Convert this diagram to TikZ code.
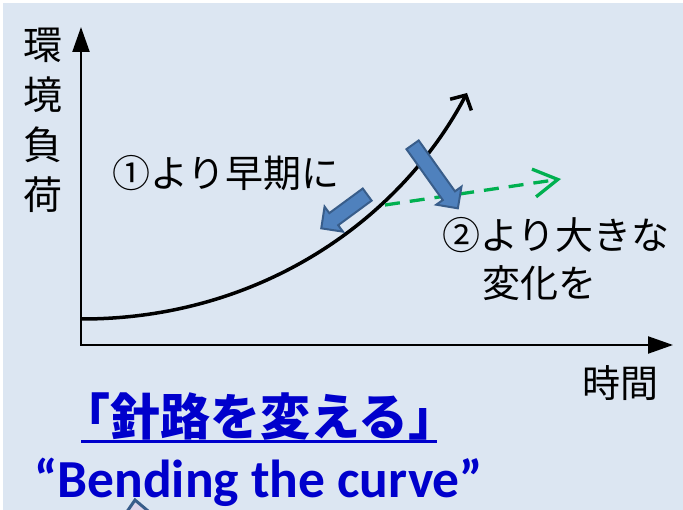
\documentclass[tikz,border=0pt]{standalone}
\usepackage{fontspec}
\setmainfont{Carlito}
\newfontfamily\jpfont{Noto Sans CJK JP}
\usetikzlibrary{arrows.meta, shapes.arrows}
\definecolor{cBack}{HTML}{DCE6F2}
\definecolor{cTitle}{HTML}{0000CC}
\definecolor{cShift}{HTML}{4F81BD}
\definecolor{cShiftEdge}{HTML}{385D8A}
\definecolor{cAlt}{HTML}{00B050}
\definecolor{cCut}{HTML}{DDD5EA}

\begin{document}
\begin{tikzpicture}[
    x=1pt, y=-1pt,
    axisline/.style={{Triangle[length=25pt, width=17pt]}-{Triangle[length=25pt, width=17pt]},
                     line width=2.2pt, black},
    trend/.style={-{Straight Barb[length=11pt, width=24pt]}, line width=3.5pt, black},
    altpath/.style={-{Straight Barb[length=24pt, width=28pt]}, line width=3.3pt, cAlt,
                    dash pattern=on 15pt off 10pt},
    shiftarr/.style={single arrow, draw=cShiftEdge, fill=cShift, line width=2pt,
                     inner sep=6.5pt, single arrow head extend=8pt, anchor=tail},
    jp/.style={font=\jpfont\fontsize{38}{48}\selectfont, inner sep=0pt},
    ttl/.style={font=\jpfont\bfseries\fontsize{50}{50}\selectfont, text=cTitle, inner sep=0pt},
    eng/.style={font=\bfseries\fontsize{53.5}{54}\selectfont, text=cTitle, inner sep=0pt},
]
\useasboundingbox (0,0) rectangle (683,510);

% ===================== Fondo =====================
\fill[white] (0,0) rectangle (683,510);
\fill[cBack] (3,3) rectangle (683,510);

% ===================== Ejes =====================
\coordinate (orig) at (81,345);
\coordinate (ytip) at (81,27);
\coordinate (xtip) at (673,345);
\draw[axisline] (ytip) -- (orig) -- (xtip);

\node[jp, align=center, font=\jpfont\fontsize{39}{50}\selectfont] (ylbl) at (43,120) {環\\境\\負\\荷};
\node[jp, anchor=base] (xlbl) at (620,398) {時間};

% ===================== Curva =====================
\coordinate (cstart) at (82,319);
\coordinate (cend) at (467,93);
\draw[trend] (cstart) .. controls (260,319) and (400,220) .. (cend);

% ===================== Camino alternativo =====================
\coordinate (gstart) at (385,205);
\coordinate (gend) at (561,179);
\draw[altpath] (gstart) -- (gend);

% ===================== Flechas de cambio =====================
\node[shiftarr, rotate=216.3, minimum height=57pt] (early) at (368,194) {};
\node[shiftarr, rotate=-54.5, minimum height=78pt] (bigger) at (412,144) {};

\node[jp, anchor=base west] (earlylbl) at (112,188) {①より早期に};
\node[jp, anchor=base west] (biglbl) at (442,250) {②より大きな};
\node[jp, anchor=base west] (biglbl2) at (482,298) {変化を};

% ===================== Titulo =====================
\node[ttl, anchor=base west] (title) at (60,436) {「針路を変える」};
\draw[cTitle, line width=3pt] ([xshift=21pt, yshift=-6pt]title.base west)
      -- ([xshift=-22pt, yshift=-6pt]title.base east);
\node[eng, anchor=base west] (engl) at (34,497) {“Bending the curve”};

% figura recortada en el borde inferior
\filldraw[draw=cShiftEdge, fill=cCut, line width=3pt] (124,516) -- (135,500) -- (154,516);

\end{tikzpicture}
\end{document}
